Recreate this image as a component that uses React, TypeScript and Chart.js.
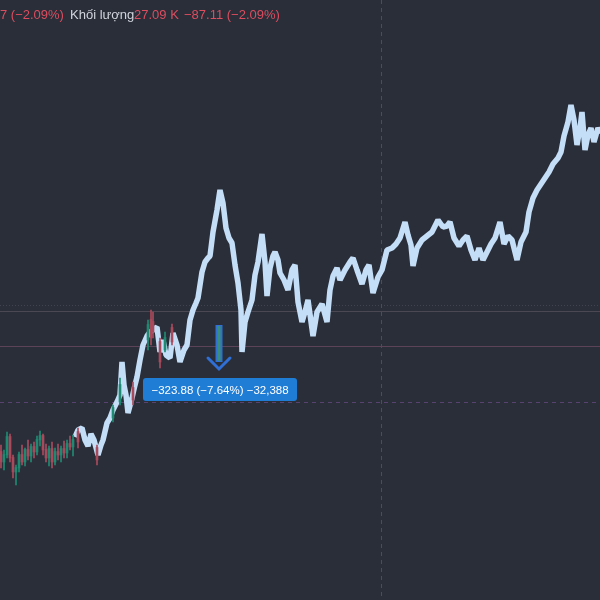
import React, { useEffect, useRef } from "react";
import { Chart, registerables } from "chart.js";

Chart.register(...registerables);

// Light-blue highlighted price path (x = bar position, value = price level)
const lineX = [75, 78, 82, 85, 88, 91, 94, 98, 101, 103, 107, 110, 113, 117, 120, 122, 124, 126, 128, 132, 135, 137, 140, 143, 147, 150, 153, 157, 160, 163, 166, 170, 173, 177, 180, 184, 187, 190, 193, 196, 198, 202, 205, 208, 210, 213, 217, 220, 223, 226, 229, 232, 235, 238, 241, 242, 245, 248, 252, 255, 258, 262, 265, 267, 270, 273, 275, 278, 280, 284, 288, 292, 295, 298, 302, 305, 308, 313, 317, 322, 327, 330, 333, 337, 340, 345, 350, 353, 357, 362, 366, 369, 373, 378, 382, 387, 392, 396, 400, 405, 408, 411, 413, 417, 422, 427, 432, 438, 443, 447, 450, 454, 459, 463, 467, 471, 475, 479, 483, 487, 491, 495, 500, 504, 508, 512, 517, 521, 526, 529, 533, 537, 541, 545, 549, 553, 558, 561, 564, 568, 571, 574, 577, 580, 582, 585, 588, 591, 594, 598, 601];
const lineVals = [163, 170, 172, 160, 154, 166, 160, 145, 155, 160, 177, 182, 190, 198, 205, 238, 215, 205, 187, 202, 215, 223, 240, 255, 264, 268, 270, 273, 248, 260, 245, 242, 267, 255, 238, 250, 255, 280, 290, 297, 302, 328, 338, 342, 344, 368, 390, 410, 397, 372, 362, 357, 335, 317, 290, 248, 278, 288, 300, 325, 338, 366, 338, 304, 332, 344, 348, 340, 327, 320, 310, 330, 335, 298, 278, 288, 300, 264, 288, 296, 278, 310, 324, 332, 320, 330, 338, 342, 330, 316, 330, 335, 307, 323, 330, 350, 352, 356, 362, 378, 365, 355, 334, 352, 360, 364, 368, 380, 373, 374, 378, 362, 354, 360, 364, 350, 340, 352, 340, 348, 356, 362, 378, 356, 364, 360, 340, 358, 368, 388, 402, 410, 416, 422, 428, 436, 442, 448, 464, 478, 495, 480, 455, 472, 488, 450, 465, 472, 458, 472, 467];

// Red / green candles
const candleX = [1, 4, 7, 10, 13, 16, 19, 22, 25, 28, 31, 34, 37, 40, 43, 46, 49, 52, 55, 58, 61, 64, 67, 70, 73, 78, 97, 113, 120, 133, 148, 151, 153, 160, 165, 172];
const candleOpen = [148, 138, 145, 163, 142, 128, 132, 145, 138, 150, 144, 153, 148, 160, 164, 150, 142, 151, 138, 148, 145, 151, 147, 156, 153, 168, 152, 182, 198, 212, 260, 280, 278, 258, 250, 272];
const candleHigh = [155, 150, 168, 166, 145, 135, 148, 155, 152, 160, 156, 158, 164, 169, 166, 156, 154, 158, 152, 156, 154, 159, 160, 164, 165, 172, 155, 195, 222, 218, 280, 290, 288, 262, 268, 276];
const candleLow = [132, 130, 142, 138, 122, 115, 128, 135, 134, 140, 138, 142, 145, 154, 145, 138, 134, 132, 135, 140, 138, 142, 142, 150, 144, 152, 135, 178, 195, 195, 250, 255, 262, 232, 248, 255];
const candleClose = [138, 145, 163, 142, 128, 132, 145, 138, 150, 144, 153, 148, 160, 164, 150, 142, 151, 138, 148, 145, 151, 147, 156, 153, 160, 158, 140, 192, 215, 200, 275, 262, 268, 238, 262, 258];

// Reference levels
const solidLevel = 289;
const pinkLevel = 254;
const dottedLevel = 295;
const crossLevel = 198;
const crossX = 381;

// Measure annotation
const measureX = 219;
const measureFrom = 275;
const measureTo = 230;
const measureText = "\u2212323.88 (\u22127.64%) \u221232,388";

// Header legend
const headerParts = [
  { text: "7 (\u22122.09%)", color: "#dc4d5f", x: 0 },
  { text: "Kh\u1ed1i l\u01b0\u1ee3ng", color: "#d1d4dc", x: 70 },
  { text: "27.09 K", color: "#dc4d5f", x: 134 },
  { text: "\u221287.11 (\u22122.09%)", color: "#dc4d5f", x: 184 },
];

const BG = "#2a2e39";
const UP = "#1f8a72";
const DOWN = "#a94a5c";

export default function App() {
  const ref = useRef<HTMLCanvasElement>(null);

  useEffect(() => {
    const canvas = ref.current;
    if (!canvas) return;
    const colors = candleX.map((_, i) => (candleClose[i] >= candleOpen[i] ? UP : DOWN));

    const overlay = {
      id: "overlay",
      beforeDraw(chart: any) {
        const c = chart.ctx;
        c.save();
        c.fillStyle = BG;
        c.fillRect(0, 0, chart.width, chart.height);
        c.restore();
      },
      beforeDatasetsDraw(chart: any) {
        const c = chart.ctx;
        const xs = chart.scales.x;
        const ys = chart.scales.y;
        const W = chart.width;
        const H = chart.height;
        c.save();
        c.strokeStyle = "rgba(120,120,135,0.3)";
        c.lineWidth = 1;
        c.setLineDash([1, 2]);
        let y = Math.round(ys.getPixelForValue(dottedLevel)) + 0.5;
        c.beginPath(); c.moveTo(0, y); c.lineTo(W, y); c.stroke();
        c.setLineDash([]);
        c.strokeStyle = "#4b4853";
        y = Math.round(ys.getPixelForValue(solidLevel)) + 0.5;
        c.beginPath(); c.moveTo(0, y); c.lineTo(W, y); c.stroke();
        c.strokeStyle = "#5c4358";
        y = Math.round(ys.getPixelForValue(pinkLevel)) + 0.5;
        c.beginPath(); c.moveTo(0, y); c.lineTo(W, y); c.stroke();
        c.strokeStyle = "#584270";
        c.setLineDash([4, 4]);
        y = Math.round(ys.getPixelForValue(crossLevel)) + 0.5;
        c.beginPath(); c.moveTo(0, y); c.lineTo(W, y); c.stroke();
        const x = Math.round(xs.getPixelForValue(crossX)) + 0.5;
        c.beginPath(); c.moveTo(x, 0); c.lineTo(x, H); c.stroke();
        c.restore();
      },
      afterDraw(chart: any) {
        const c = chart.ctx;
        const xs = chart.scales.x;
        const ys = chart.scales.y;
        c.save();
        const ax = xs.getPixelForValue(measureX);
        const y0 = ys.getPixelForValue(measureFrom);
        const y1 = ys.getPixelForValue(measureTo);
        c.fillStyle = "#2f6fd6";
        c.fillRect(ax - 3.5, y0, 7, y1 - y0 - 8);
        c.fillStyle = "#3a8f78";
        c.fillRect(ax - 1.5, y0 + 1, 3, y1 - y0 - 10);
        c.strokeStyle = "#2f6fd6";
        c.lineWidth = 3;
        c.lineCap = "round";
        c.beginPath();
        c.moveTo(ax - 11, y1 - 12);
        c.lineTo(ax, y1 - 1);
        c.lineTo(ax + 11, y1 - 12);
        c.stroke();
        const bx = 143, by = 378, bw = 154, bh = 23;
        c.fillStyle = "#1f7dd6";
        c.beginPath();
        (c as any).roundRect(bx, by, bw, bh, 3);
        c.fill();
        c.fillStyle = "#ffffff";
        c.font = "11.5px 'Liberation Sans', Arial, sans-serif";
        c.textAlign = "center";
        c.textBaseline = "middle";
        c.fillText(measureText, bx + bw / 2, by + bh / 2 + 1);
        c.font = "13px 'Liberation Sans', Arial, sans-serif";
        c.textAlign = "left";
        c.textBaseline = "middle";
        for (const p of headerParts) {
          c.fillStyle = p.color;
          c.fillText(p.text, p.x, 15);
        }
        c.restore();
      },
    };

    const chart = new Chart(canvas, {
      type: "bar",
      data: {
        datasets: [
          {
            type: "line",
            data: lineX.map((x, i) => ({ x, y: lineVals[i] })),
            borderColor: "#c4def8",
            backgroundColor: "#c4def8",
            borderWidth: 5.5,
            pointRadius: 0,
            tension: 0,
            borderJoinStyle: "bevel",
            order: 2,
          } as any,
          {
            type: "bar",
            data: candleX.map((x, i) => ({ x, y: [candleLow[i], candleHigh[i]] })),
            backgroundColor: colors,
            barThickness: 1,
            grouped: false,
            order: 1,
          } as any,
          {
            type: "bar",
            data: candleX.map((x, i) => ({
              x,
              y: [Math.min(candleOpen[i], candleClose[i]), Math.max(candleOpen[i], candleClose[i]) + 0.5],
            })),
            backgroundColor: colors,
            barThickness: 2,
            grouped: false,
            order: 0,
          } as any,
        ],
      },
      options: {
        animation: false,
        responsive: false,
        maintainAspectRatio: false,
        layout: { padding: 0 },
        plugins: { legend: { display: false }, tooltip: { enabled: false } },
        scales: {
          x: { type: "linear", min: 0, max: 600, display: false, offset: false, grid: { display: false } },
          y: { type: "linear", min: 0, max: 600, display: false, grid: { display: false } },
        },
      } as any,
      plugins: [overlay],
    });
    return () => chart.destroy();
  }, []);

  return (
    <div style={{ position: "fixed", left: 0, top: 0, width: 600, height: 600, background: BG }}>
      <canvas ref={ref} width={600} height={600} style={{ display: "block", width: 600, height: 600 }} />
    </div>
  );
}
